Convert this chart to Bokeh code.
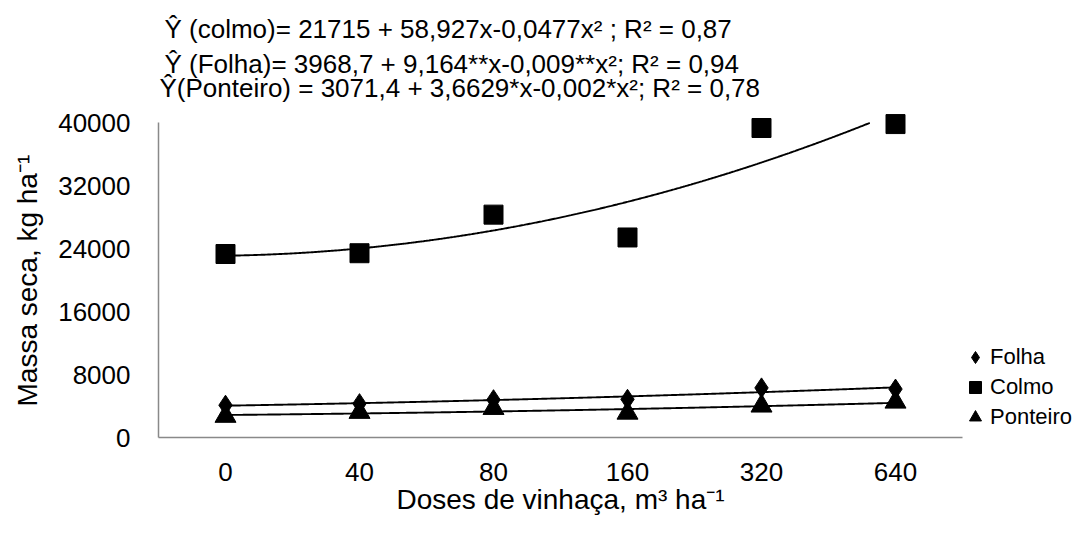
import numpy as np
from bokeh.plotting import figure
from bokeh.models import Range1d, FixedTicker, Legend, LegendItem, Label, Title
from bokeh.embed import file_html
from bokeh.resources import INLINE

# ---- data ----
doses = ["0", "40", "80", "160", "320", "640"]
folha = [4100, 4300, 4800, 4850, 6300, 6150]
colmo = [23300, 23400, 28300, 25400, 39300, 39800]
ponteiro = [2700, 3200, 3700, 3100, 4000, 4500]
y_ticks = [0, 8000, 16000, 24000, 32000, 40000]
eq_colmo = "Ŷ (colmo)= 21715 + 58,927x-0,0477x² ; R² = 0,87"
eq_folha = "Ŷ (Folha)= 3968,7 + 9,164**x-0,009**x²; R² = 0,94"
eq_ponteiro = "Ŷ(Ponteiro) = 3071,4 + 3,6629*x-0,002*x²; R² = 0,78"
x_title = "Doses de vinhaça, m³ ha⁻¹"
y_title = "Massa seca, kg ha⁻¹"

FONT = "Liberation Sans"
idx = np.arange(1, len(doses) + 1)
Y_MAX = 40000

# plot area: 804 x 315 px (x 156..960, y 122..437); frame extended up/right for
# the regression equations and the legend
LEFT, BOTTOM, TOP = 156, 437, 8
PX_X = 804 / 6.0
PX_Y = 315 / Y_MAX
FW, FH = 1076 - LEFT, BOTTOM - TOP
x_end = 0.5 + FW / PX_X
y_end = FH / PX_Y

p = figure(frame_width=FW, frame_height=FH, output_backend="svg", toolbar_location=None,
           x_range=Range1d(0.5, x_end), y_range=Range1d(0, y_end),
           min_border_left=LEFT, min_border_right=0, min_border_top=TOP,
           min_border_bottom=524 - BOTTOM)
p.outline_line_color = None
p.xgrid.visible = False
p.ygrid.visible = False

for ax in (p.xaxis, p.yaxis):
    ax.axis_line_color = "#898989"
    ax.axis_line_width = 1.5
    ax.major_tick_out = 0
    ax.major_tick_in = 0
    ax.minor_tick_out = 0
    ax.minor_tick_in = 0
    ax.major_tick_line_color = None
    ax.minor_tick_line_color = None
    ax.major_label_text_font = FONT
    ax.major_label_text_font_size = "26px"
    ax.major_label_text_color = "black"

p.xaxis.bounds = (0.5, 6.5)
p.xaxis.ticker = FixedTicker(ticks=list(idx))
p.xaxis.major_label_overrides = {int(i): d for i, d in zip(idx, doses)}
p.xaxis.major_label_standoff = 25

p.yaxis.bounds = (0, Y_MAX)
p.yaxis.ticker = FixedTicker(ticks=y_ticks)
p.yaxis.major_label_standoff = 28

# axis titles, centred on the plot area
p.add_layout(Title(text=x_title, align="left", offset=238, standoff=0,
                   vertical_align="top", text_font=FONT, text_font_size="28px",
                   text_font_style="normal", text_color="black"), "below")
p.add_layout(Title(text=y_title, align="left", offset=31, standoff=22,
                   vertical_align="top", text_font=FONT, text_font_size="28px",
                   text_font_style="normal", text_color="black"), "left")

# trend lines (2nd-order polynomial fitted on category index), clipped at the axis top
xs = np.linspace(1, 6, 600)
for series in (colmo, folha, ponteiro):
    c = np.polyfit(idx, series, 2)
    ys = np.polyval(c, xs)
    ys = np.where(ys <= Y_MAX, ys, np.nan)
    p.line(xs, ys, line_color="black", line_width=1.9)

r_f = p.scatter(idx, folha, marker="diamond", size=20, color="black")
r_c = p.scatter(idx, colmo, marker="square", size=19, color="black")
r_p = p.scatter(idx, ponteiro, marker="triangle", size=21, color="black")

legend = Legend(items=[LegendItem(label="Folha", renderers=[r_f]),
                       LegendItem(label="Colmo", renderers=[r_c]),
                       LegendItem(label="Ponteiro", renderers=[r_p])],
                location=(802, 5), orientation="vertical",
                border_line_color=None, background_fill_alpha=0,
                padding=0, spacing=0, margin=0,
                glyph_width=30, glyph_height=30, label_standoff=-8,
                label_text_font=FONT, label_text_font_size="22px",
                label_text_color="black", label_height=30)
p.add_layout(legend, "center")

def px_to_x(px):
    return 0.5 + (px - LEFT) / PX_X

def px_to_y(py):
    return (BOTTOM - py) / PX_Y

for t, xp, yp in ((eq_colmo, 162, 28), (eq_folha, 162, 63), (eq_ponteiro, 157, 87)):
    p.add_layout(Label(x=px_to_x(xp), y=px_to_y(yp), text=t, text_font=FONT,
                       text_font_size="26px", text_color="black",
                       text_baseline="middle", text_align="left"))

open("out.html", "w").write(file_html(p, INLINE))
